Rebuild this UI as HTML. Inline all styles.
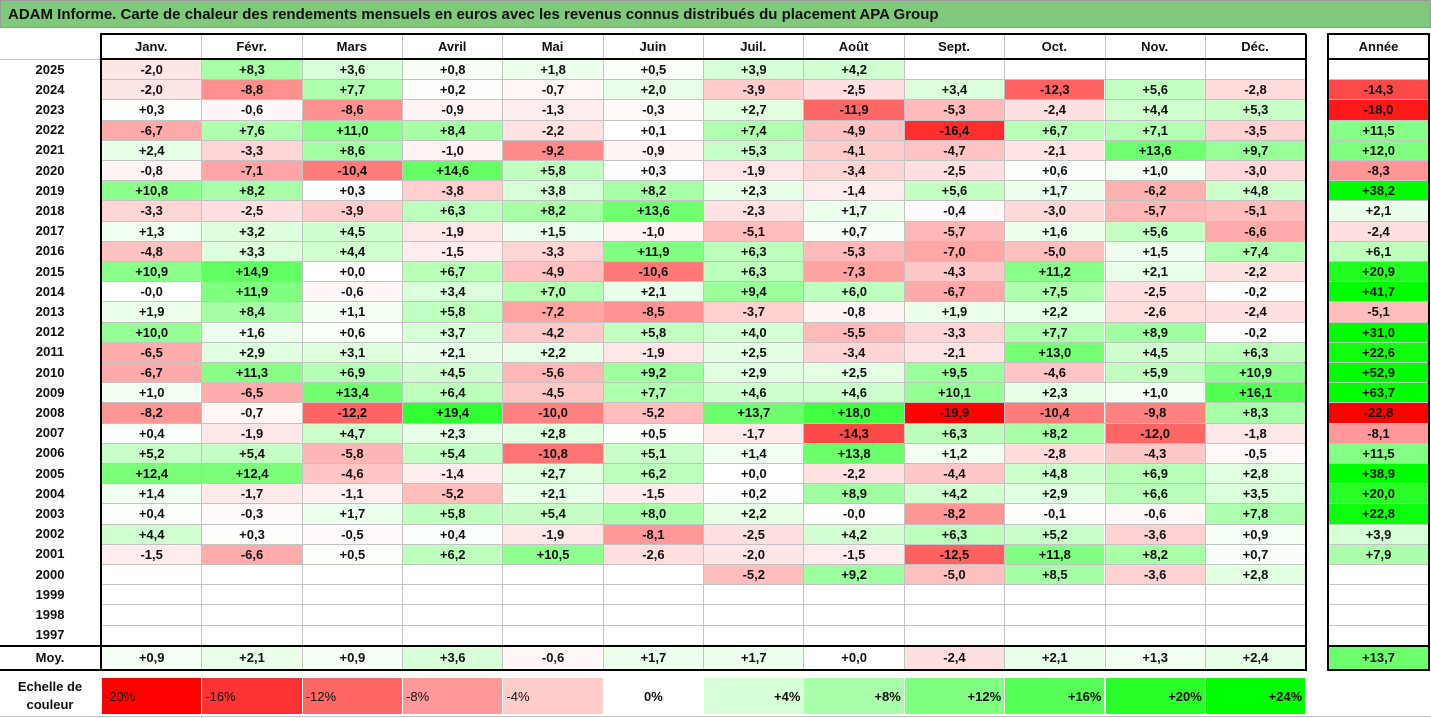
<!DOCTYPE html>
<html><head><meta charset="utf-8">
<style>
body{margin:0;width:1431px;height:718px;background:#fff;position:relative;overflow:hidden;font-family:"Liberation Sans",sans-serif;font-weight:bold;color:#111}
.c{position:absolute;box-sizing:border-box;font-size:13px;display:flex;align-items:center;justify-content:center}
.ln{position:absolute;background:#c3c3c3}
.bk{position:absolute;background:#000}
</style></head><body>
<div style="position:absolute;left:0;top:0;width:1431px;height:28px;background:#80c87c;border:1px solid #9a9a9a;box-sizing:border-box;font-size:15px;line-height:27px;padding-left:7px">ADAM Informe. Carte de chaleur des rendements mensuels en euros avec les revenus connus distribués du placement APA Group</div>
<div id="grid"></div>
<script>
const months=["Janv.","Févr.","Mars","Avril","Mai","Juin","Juil.","Août","Sept.","Oct.","Nov.","Déc."];
const years=[2025,2024,2023,2022,2021,2020,2019,2018,2017,2016,2015,2014,2013,2012,2011,2010,2009,2008,2007,2006,2005,2004,2003,2002,2001,2000,1999,1998,1997];
const N=null;
const values=[
[-2.0,8.3,3.6,0.8,1.8,0.5,3.9,4.2,N,N,N,N],
[-2.0,-8.8,7.7,0.2,-0.7,2.0,-3.9,-2.5,3.4,-12.3,5.6,-2.8],
[0.3,-0.6,-8.6,-0.9,-1.3,-0.3,2.7,-11.9,-5.3,-2.4,4.4,5.3],
[-6.7,7.6,11.0,8.4,-2.2,0.1,7.4,-4.9,-16.4,6.7,7.1,-3.5],
[2.4,-3.3,8.6,-1.0,-9.2,-0.9,5.3,-4.1,-4.7,-2.1,13.6,9.7],
[-0.8,-7.1,-10.4,14.6,5.8,0.3,-1.9,-3.4,-2.5,0.6,1.0,-3.0],
[10.8,8.2,0.3,-3.8,3.8,8.2,2.3,-1.4,5.6,1.7,-6.2,4.8],
[-3.3,-2.5,-3.9,6.3,8.2,13.6,-2.3,1.7,-0.4,-3.0,-5.7,-5.1],
[1.3,3.2,4.5,-1.9,1.5,-1.0,-5.1,0.7,-5.7,1.6,5.6,-6.6],
[-4.8,3.3,4.4,-1.5,-3.3,11.9,6.3,-5.3,-7.0,-5.0,1.5,7.4],
[10.9,14.9,0.0,6.7,-4.9,-10.6,6.3,-7.3,-4.3,11.2,2.1,-2.2],
[-0.0,11.9,-0.6,3.4,7.0,2.1,9.4,6.0,-6.7,7.5,-2.5,-0.2],
[1.9,8.4,1.1,5.8,-7.2,-8.5,-3.7,-0.8,1.9,2.2,-2.6,-2.4],
[10.0,1.6,0.6,3.7,-4.2,5.8,4.0,-5.5,-3.3,7.7,8.9,-0.2],
[-6.5,2.9,3.1,2.1,2.2,-1.9,2.5,-3.4,-2.1,13.0,4.5,6.3],
[-6.7,11.3,6.9,4.5,-5.6,9.2,2.9,2.5,9.5,-4.6,5.9,10.9],
[1.0,-6.5,13.4,6.4,-4.5,7.7,4.6,4.6,10.1,2.3,1.0,16.1],
[-8.2,-0.7,-12.2,19.4,-10.0,-5.2,13.7,18.0,-19.9,-10.4,-9.8,8.3],
[0.4,-1.9,4.7,2.3,2.8,0.5,-1.7,-14.3,6.3,8.2,-12.0,-1.8],
[5.2,5.4,-5.8,5.4,-10.8,5.1,1.4,13.8,1.2,-2.8,-4.3,-0.5],
[12.4,12.4,-4.6,-1.4,2.7,6.2,0.0,-2.2,-4.4,4.8,6.9,2.8],
[1.4,-1.7,-1.1,-5.2,2.1,-1.5,0.2,8.9,4.2,2.9,6.6,3.5],
[0.4,-0.3,1.7,5.8,5.4,8.0,2.2,-0.0,-8.2,-0.1,-0.6,7.8],
[4.4,0.3,-0.5,0.4,-1.9,-8.1,-2.5,4.2,6.3,5.2,-3.6,0.9],
[-1.5,-6.6,0.5,6.2,10.5,-2.6,-2.0,-1.5,-12.5,11.8,8.2,0.7],
[N,N,N,N,N,N,-5.2,9.2,-5.0,8.5,-3.6,2.8],
[N,N,N,N,N,N,N,N,N,N,N,N],
[N,N,N,N,N,N,N,N,N,N,N,N],
[N,N,N,N,N,N,N,N,N,N,N,N]];
const annual=[N,-14.3,-18.0,11.5,12.0,-8.3,38.2,2.1,-2.4,6.1,20.9,41.7,-5.1,31.0,22.6,52.9,63.7,-22.8,-8.1,11.5,38.9,20.0,22.8,3.9,7.9,N,N,N,N];
const avgMonths=[0.9,2.1,0.9,3.6,-0.6,1.7,1.7,0.0,-2.4,2.1,1.3,2.4];
const avgYear=13.7;
const scaleLabels=[-20,-16,-12,-8,-4,0,4,8,12,16,20,24];

const X0=101,CW=100.35,Y0=59,RH=20.2,AX=1328,AW=101;
function colX(i){return X0+i*CW;}
function rowY(j){return Y0+j*RH;}
function color(v){
  if(v===null)return '#fff';
  if(v<0){const t=Math.min(-v/20,1);const g=Math.round(255*(1-t));return `rgb(255,${g},${g})`;}
  const t=Math.min(v/24,1);const r=Math.round(255*(1-t));return `rgb(${r},255,${r})`;
}
function fmt(v){const neg=v<0||Object.is(v,-0);return (neg?'-':'+')+Math.abs(v).toFixed(1).replace('.',',');}
const body=document.body;
function cell(x,y,w,h,txt,bg,name,align){
  const d=document.createElement('div');d.className='c';
  d.style.left=x+'px';d.style.top=y+'px';d.style.width=w+'px';d.style.height=h+'px';
  if(bg)d.style.background=bg;
  if(align)d.style.justifyContent=align;
  d.textContent=txt;
  
  
  body.appendChild(d);return d;
}
function line(x,y,w,h,cls,name){
  const d=document.createElement('div');d.className=cls;
  d.style.left=x+'px';d.style.top=y+'px';d.style.width=w+'px';d.style.height=h+'px';
  
  
  body.appendChild(d);
}
// headers
months.forEach((m,i)=>cell(colX(i),34,CW,24,m,null,'month-header'));
cell(AX,34,AW,24,'Année',null,'year-total-header');
// rows
years.forEach((y,j)=>{
  cell(0,rowY(j),100,RH,String(y),null,'year-label');
  values[j].forEach((v,i)=>{ if(v!==null) cell(colX(i)+1,rowY(j)+1,CW-1,RH-1,fmt(v),color(v),'heat-cell'); });
  if(annual[j]!==null) cell(AX+1,rowY(j)+1,AW-2,RH-1,fmt(annual[j]),color(annual[j]),'annual-cell');
});
const MY=Y0+years.length*RH+1;
cell(0,MY,100,23,'Moy.',null,'average-label');
avgMonths.forEach((v,i)=>cell(colX(i)+1,MY+1,CW-1,22,fmt(v),color(v),'average-cell'));
cell(AX+1,MY+1,AW-2,22,fmt(avgYear),color(avgYear),'average-year-cell');
// grid lines
for(let i=1;i<12;i++){line(colX(i),34,1,MY+24-34,'ln','grid-vline');}
for(let j=0;j<=years.length;j++){line(X0,rowY(j),12*CW,1,'ln','grid-hline');line(AX,rowY(j),AW,1,'ln','grid-hline');}
line(0,rowY(0),100,1,'ln','grid-hline');
// black borders
line(100,34,2,MY+24-34,'bk','table-border');
line(X0+12*CW,34,2,MY+24-34,'bk','table-border');
line(100,33,12*CW+2,2,'bk','table-border');
line(100,58,12*CW+2,2,'bk','table-border');
line(0,MY-1,X0+12*CW+2,2,'bk','table-border');
line(0,MY+23,X0+12*CW+2,2,'bk','table-border');
line(AX-1,33,2,MY+25-33,'bk','annual-border');
line(AX+AW-1,33,2,MY+25-33,'bk','annual-border');
line(AX-1,33,AW+1,2,'bk','annual-border');
line(AX-1,58,AW+1,2,'bk','annual-border');
line(AX-1,MY-1,AW+1,2,'bk','annual-border');
line(AX-1,MY+23,AW+1,2,'bk','annual-border');
// scale
const sl=cell(0,678,100,36,'','', 'scale-title');
sl.innerHTML='Echelle de<br>couleur';sl.style.textAlign='center';sl.style.lineHeight='18px';
scaleLabels.forEach((v,i)=>{
  const d=cell(colX(i)+1,678,CW-1,36,v+'%',color(v),'scale-swatch',v<0?'flex-start':(v>0?'flex-end':'center'));
  d.textContent=(v>0?'+':'')+v+'%';
  d.style.padding='0 3px';d.style.fontWeight= v<0?'normal':'bold';
});
line(0,716,1431,1,'ln','bottom-border');
</script>
</body></html>
